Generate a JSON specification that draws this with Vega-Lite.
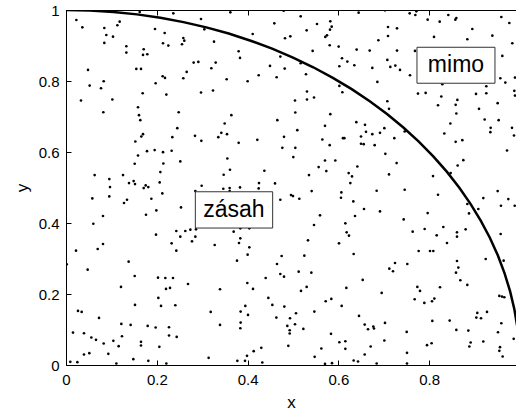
{
"$schema":"https://vega.github.io/schema/vega-lite/v6.json",
"width":450,"height":355,
"autosize":{"type":"none"},
"padding":{"left":66,"top":10,"right":0,"bottom":49},
"background":"white",
"config":{"view":{"stroke":null},"font":"Liberation Sans",
"axis":{"grid":false,"domainColor":"black","domainWidth":1,"tickColor":"black","tickSize":-5,"tickWidth":1,"labelColor":"black","labelFont":"Liberation Sans","labelFontSize":15,"titleFont":"Liberation Sans","titleFontSize":17,"titleFontWeight":"normal","titleColor":"black"}},
"datasets":{
"pts":[
{"x":0.0228,"y":0.9719},{"x":0.0360,"y":0.9512},{"x":0.0844,"y":0.9494},{"x":0.1131,"y":0.9569},{"x":0.1182,"y":0.9672},{"x":0.0888,"y":0.9297},{"x":0.1035,"y":0.9250},{"x":0.0844,"y":0.9072},{"x":0.1329,"y":0.8978},{"x":0.1329,"y":0.8800},{"x":0.1711,"y":0.8894},{"x":0.1696,"y":0.8734},{"x":0.1791,"y":0.8753},{"x":0.1960,"y":0.9466},{"x":0.2173,"y":0.9353},{"x":0.2137,"y":0.9062},{"x":0.2254,"y":0.8997},{"x":0.2364,"y":0.9906},{"x":0.1623,"y":0.9944},{"x":0.0485,"y":0.8312},{"x":0.1549,"y":0.8340},{"x":0.1652,"y":0.8340},{"x":0.2129,"y":0.8134},{"x":0.2181,"y":0.8087},{"x":0.0830,"y":0.7993},{"x":0.0521,"y":0.7871},{"x":0.0771,"y":0.7797},{"x":0.1975,"y":0.7937},{"x":0.1689,"y":0.7656},{"x":0.2210,"y":0.7618},{"x":0.0330,"y":0.7450},{"x":0.1021,"y":0.7478},{"x":0.1586,"y":0.7262},{"x":0.0822,"y":0.7121},{"x":0.1608,"y":0.7037},{"x":0.1637,"y":0.6897},{"x":0.2482,"y":0.7121},{"x":0.2452,"y":0.6671},
{"x":0.2974,"y":0.9747},{"x":0.3047,"y":0.9456},{"x":0.3620,"y":0.9934},{"x":0.2584,"y":0.9212},{"x":0.2606,"y":0.9137},{"x":0.2555,"y":0.9034},{"x":0.3260,"y":0.9109},{"x":0.4589,"y":0.9625},{"x":0.4794,"y":0.9981},{"x":0.4112,"y":0.9325},{"x":0.4824,"y":0.9203},{"x":0.4941,"y":0.9259},{"x":0.3803,"y":0.8837},{"x":0.3833,"y":0.8650},{"x":0.4721,"y":0.8687},{"x":0.2812,"y":0.8518},{"x":0.2915,"y":0.8537},{"x":0.3297,"y":0.8518},{"x":0.3201,"y":0.8359},{"x":0.2658,"y":0.8256},{"x":0.2584,"y":0.8078},{"x":0.4493,"y":0.8425},{"x":0.4817,"y":0.8350},{"x":0.4244,"y":0.8162},{"x":0.4640,"y":0.8106},{"x":0.3539,"y":0.8050},{"x":0.4001,"y":0.7993},{"x":0.2974,"y":0.7675},{"x":0.3238,"y":0.7731},{"x":0.3642,"y":0.7037},{"x":0.3495,"y":0.6803},{"x":0.4655,"y":0.6897},
{"x":0.5169,"y":0.9822},{"x":0.5529,"y":0.9606},{"x":0.5301,"y":0.9428},{"x":0.5822,"y":0.9681},{"x":0.5852,"y":0.9531},{"x":0.5815,"y":0.9447},{"x":0.5749,"y":0.9287},{"x":0.5712,"y":0.9241},{"x":0.6446,"y":0.9925},{"x":0.7026,"y":0.9990},{"x":0.7093,"y":0.9522},{"x":0.7291,"y":0.9484},{"x":0.7093,"y":0.9269},{"x":0.6880,"y":0.9147},{"x":0.5808,"y":0.9006},{"x":0.6006,"y":0.8969},{"x":0.5433,"y":0.8847},{"x":0.6402,"y":0.8884},{"x":0.6689,"y":0.8856},{"x":0.7291,"y":0.8856},{"x":0.6079,"y":0.8640},{"x":0.6197,"y":0.8547},{"x":0.6021,"y":0.8415},{"x":0.6351,"y":0.8444},{"x":0.7078,"y":0.8594},{"x":0.7144,"y":0.8397},{"x":0.7254,"y":0.8434},{"x":0.7357,"y":0.8312},{"x":0.6747,"y":0.8368},{"x":0.5169,"y":0.8500},{"x":0.5286,"y":0.8190},{"x":0.6858,"y":0.7975},{"x":0.6021,"y":0.7862},{"x":0.6087,"y":0.7684},{"x":0.5308,"y":0.7703},{"x":0.5308,"y":0.7478},{"x":0.5463,"y":0.7534},{"x":0.5044,"y":0.7450},{"x":0.7078,"y":0.7431},{"x":0.7115,"y":0.7215},{"x":0.5051,"y":0.7112},{"x":0.5822,"y":0.7065},{"x":0.5705,"y":0.6737},{"x":0.6395,"y":0.6840},{"x":0.6586,"y":0.6765},{"x":0.7012,"y":0.6671},
{"x":0.7570,"y":0.9906},{"x":0.7695,"y":0.9859},{"x":0.7717,"y":0.9963},{"x":0.7966,"y":0.9728},{"x":0.8231,"y":0.9672},{"x":0.8421,"y":0.9859},{"x":0.8576,"y":0.9728},{"x":0.8598,"y":0.9775},{"x":0.9589,"y":0.9803},{"x":0.9765,"y":0.9634},{"x":0.8950,"y":0.9466},{"x":0.8106,"y":0.9241},{"x":0.8840,"y":0.9175},{"x":0.9391,"y":0.9278},{"x":0.9831,"y":0.9062},{"x":0.7687,"y":0.8847},{"x":0.9611,"y":0.8706},{"x":0.7577,"y":0.8162},{"x":0.9567,"y":0.8078},{"x":0.9677,"y":0.7956},{"x":0.9890,"y":0.8097},{"x":0.8289,"y":0.7909},{"x":0.9258,"y":0.7853},{"x":0.7753,"y":0.7646},{"x":0.7922,"y":0.7665},{"x":0.9031,"y":0.7637},{"x":0.9258,"y":0.7656},{"x":0.9875,"y":0.7722},{"x":0.9890,"y":0.7590},{"x":0.8267,"y":0.7562},{"x":0.8620,"y":0.7468},{"x":0.8583,"y":0.7328},{"x":0.8194,"y":0.7318},{"x":0.9508,"y":0.7375},{"x":0.9097,"y":0.7215},{"x":0.8598,"y":0.7084},{"x":0.9222,"y":0.6915},{"x":0.9530,"y":0.6897},{"x":0.8466,"y":0.6803},{"x":0.9354,"y":0.6681},{"x":0.9824,"y":0.6681},
{"x":0.1696,"y":0.6503},{"x":0.1659,"y":0.6437},{"x":0.1527,"y":0.6296},{"x":0.2342,"y":0.6418},{"x":0.1784,"y":0.6024},{"x":0.1953,"y":0.6053},{"x":0.2137,"y":0.5996},{"x":0.2327,"y":0.6034},{"x":0.1586,"y":0.5902},{"x":0.2144,"y":0.5677},{"x":0.1513,"y":0.5668},{"x":0.2078,"y":0.5434},{"x":0.0631,"y":0.5349},{"x":0.1256,"y":0.5349},{"x":0.0954,"y":0.5237},{"x":0.1388,"y":0.5124},{"x":0.1490,"y":0.5181},{"x":0.1520,"y":0.5096},{"x":0.2063,"y":0.5143},{"x":0.0969,"y":0.5012},{"x":0.1755,"y":0.5059},{"x":0.1711,"y":0.4984},{"x":0.1813,"y":0.5012},{"x":0.2122,"y":0.4834},{"x":0.0580,"y":0.4693},{"x":0.0954,"y":0.4749},{"x":0.1344,"y":0.4655},{"x":0.1278,"y":0.4562},{"x":0.1880,"y":0.4684},{"x":0.1990,"y":0.4355},{"x":0.1762,"y":0.4233},{"x":0.0815,"y":0.4196},{"x":0.0602,"y":0.3980},{"x":0.2430,"y":0.3774},{"x":0.1982,"y":0.3671},{"x":0.0815,"y":0.3408},{"x":0.2327,"y":0.3427},{"x":0.0698,"y":0.3268},
{"x":0.2841,"y":0.6456},{"x":0.2981,"y":0.6315},{"x":0.3355,"y":0.6418},{"x":0.3421,"y":0.6540},{"x":0.3546,"y":0.6503},{"x":0.3803,"y":0.6259},{"x":0.4214,"y":0.6343},{"x":0.4802,"y":0.6428},{"x":0.4765,"y":0.6118},{"x":0.3554,"y":0.5818},{"x":0.2518,"y":0.5734},{"x":0.3612,"y":0.5499},{"x":0.3473,"y":0.5359},{"x":0.4369,"y":0.5471},{"x":0.4251,"y":0.5124},{"x":0.4604,"y":0.5115},{"x":0.2988,"y":0.5049},{"x":0.3465,"y":0.4965},{"x":0.3605,"y":0.4984},{"x":0.3605,"y":0.4899},{"x":0.3833,"y":0.5002},{"x":0.4244,"y":0.4974},{"x":0.2849,"y":0.4899},{"x":0.4721,"y":0.4655},{"x":0.4956,"y":0.4787},{"x":0.2533,"y":0.4440},{"x":0.2628,"y":0.3774},{"x":0.2739,"y":0.3812},{"x":0.2863,"y":0.3821},{"x":0.2518,"y":0.3615},{"x":0.2849,"y":0.3615},{"x":0.2775,"y":0.3483},{"x":0.3693,"y":0.3755},{"x":0.3840,"y":0.3849},{"x":0.4038,"y":0.3849},{"x":0.3840,"y":0.3568},{"x":0.3811,"y":0.3437},{"x":0.3275,"y":0.3380},{"x":0.4038,"y":0.3315},
{"x":0.5095,"y":0.6615},{"x":0.6608,"y":0.6568},{"x":0.6747,"y":0.6503},{"x":0.6916,"y":0.6540},{"x":0.6498,"y":0.6437},{"x":0.6101,"y":0.6390},{"x":0.6131,"y":0.6390},{"x":0.5646,"y":0.6353},{"x":0.5808,"y":0.6193},{"x":0.6498,"y":0.6231},{"x":0.6557,"y":0.6221},{"x":0.6799,"y":0.6193},{"x":0.7232,"y":0.6390},{"x":0.5051,"y":0.6118},{"x":0.5007,"y":0.5856},{"x":0.5705,"y":0.5762},{"x":0.5932,"y":0.5762},{"x":0.5565,"y":0.5574},{"x":0.5734,"y":0.5462},{"x":0.5352,"y":0.5349},{"x":0.6417,"y":0.5593},{"x":0.6226,"y":0.5406},{"x":0.6300,"y":0.5312},{"x":0.6263,"y":0.5124},{"x":0.7034,"y":0.5949},{"x":0.7283,"y":0.5687},{"x":0.7115,"y":0.5368},{"x":0.5000,"y":0.4759},{"x":0.5139,"y":0.4684},{"x":0.5411,"y":0.4899},{"x":0.6065,"y":0.4862},{"x":0.6057,"y":0.4712},{"x":0.6329,"y":0.4608},{"x":0.6843,"y":0.4909},{"x":0.7460,"y":0.4937},{"x":0.6564,"y":0.4393},{"x":0.6916,"y":0.4327},{"x":0.6366,"y":0.4196},{"x":0.5595,"y":0.4215},{"x":0.5463,"y":0.3943},{"x":0.6153,"y":0.3990},{"x":0.6182,"y":0.3736},{"x":0.6233,"y":0.3643},{"x":0.7438,"y":0.4102},{"x":0.5330,"y":0.3511},{"x":0.6013,"y":0.3427},
{"x":0.7460,"y":0.6578},{"x":0.8333,"y":0.6521},{"x":0.9347,"y":0.6559},{"x":0.9868,"y":0.6465},{"x":0.8583,"y":0.6287},{"x":0.8730,"y":0.6334},{"x":0.9714,"y":0.6043},{"x":0.8752,"y":0.5771},{"x":0.8627,"y":0.5621},{"x":0.8084,"y":0.5321},{"x":0.8473,"y":0.5406},{"x":0.8194,"y":0.4796},{"x":0.9508,"y":0.4899},{"x":0.9192,"y":0.4702},{"x":0.9743,"y":0.4674},{"x":0.9581,"y":0.4487},{"x":0.9883,"y":0.4487},{"x":0.8840,"y":0.4534},{"x":0.9082,"y":0.4393},{"x":0.8877,"y":0.4271},{"x":0.7966,"y":0.4280},{"x":0.7636,"y":0.3755},{"x":0.7900,"y":0.3830},{"x":0.8165,"y":0.3652},{"x":0.8311,"y":0.3887},{"x":0.8612,"y":0.3736},{"x":0.8612,"y":0.3615},{"x":0.8803,"y":0.3821},{"x":0.8392,"y":0.3437},{"x":0.9574,"y":0.3690},
{"x":0.0220,"y":0.3221},{"x":0.2430,"y":0.3221},{"x":0.1380,"y":0.2911},{"x":0.0477,"y":0.2686},{"x":0.1513,"y":0.2508},{"x":0.2026,"y":0.2461},{"x":0.2188,"y":0.2452},{"x":0.2357,"y":0.2452},{"x":0.1211,"y":0.2199},{"x":0.2203,"y":0.2143},{"x":0.2291,"y":0.2171},{"x":0.2034,"y":0.1889},{"x":0.1520,"y":0.1692},{"x":0.2093,"y":0.1664},{"x":0.2408,"y":0.1683},{"x":0.0264,"y":0.1524},{"x":0.0345,"y":0.1496},{"x":0.0727,"y":0.1327},{"x":0.1219,"y":0.1158},{"x":0.1424,"y":0.1130},{"x":0.1799,"y":0.1102},{"x":0.1975,"y":0.1055},{"x":0.2269,"y":0.1064},{"x":0.0154,"y":0.0914},{"x":0.0396,"y":0.0895},{"x":0.1233,"y":0.0811},{"x":0.0558,"y":0.0774},{"x":0.0661,"y":0.0708},{"x":0.2269,"y":0.0830},{"x":0.2438,"y":0.0792},{"x":0.1043,"y":0.0680},{"x":0.0830,"y":0.0605},{"x":0.1160,"y":0.0530},{"x":0.1652,"y":0.0652},{"x":0.1652,"y":0.0549},{"x":0.2056,"y":0.0511},{"x":0.0396,"y":0.0295},{"x":0.0514,"y":0.0333},{"x":0.0932,"y":0.0314},{"x":0.1483,"y":0.0164},{"x":0.1813,"y":0.0117},{"x":0.0095,"y":0.0089},{"x":0.0250,"y":0.0080},{"x":0.1109,"y":0.0042},{"x":0.2210,"y":0.0042},{"x":0.0015,"y":0.2835},
{"x":0.4001,"y":0.3108},{"x":0.3767,"y":0.2940},{"x":0.4750,"y":0.3071},{"x":0.4648,"y":0.2846},{"x":0.4721,"y":0.2564},{"x":0.4802,"y":0.2489},{"x":0.4398,"y":0.2452},{"x":0.3994,"y":0.2311},{"x":0.2687,"y":0.2283},{"x":0.3392,"y":0.2133},{"x":0.4119,"y":0.2143},{"x":0.4457,"y":0.1889},{"x":0.3950,"y":0.1664},{"x":0.4545,"y":0.1692},{"x":0.4809,"y":0.1646},{"x":0.3187,"y":0.1496},{"x":0.3847,"y":0.1505},{"x":0.4009,"y":0.1411},{"x":0.4633,"y":0.1336},{"x":0.4934,"y":0.1317},{"x":0.3392,"y":0.1130},{"x":0.3847,"y":0.1195},{"x":0.3840,"y":0.1036},{"x":0.4875,"y":0.1102},{"x":0.4927,"y":0.0980},{"x":0.4927,"y":0.0886},{"x":0.4897,"y":0.0539},{"x":0.4302,"y":0.0483},{"x":0.4134,"y":0.0389},{"x":0.3987,"y":0.0258},{"x":0.3142,"y":0.0202},{"x":0.3774,"y":0.0117},{"x":0.3943,"y":0.0117},{"x":0.4324,"y":0.0070},
{"x":0.5250,"y":0.3080},{"x":0.6336,"y":0.3127},{"x":0.5125,"y":0.2630},{"x":0.5404,"y":0.2602},{"x":0.7247,"y":0.2874},{"x":0.7122,"y":0.2714},{"x":0.7203,"y":0.2640},{"x":0.6535,"y":0.2396},{"x":0.5301,"y":0.2199},{"x":0.5176,"y":0.2086},{"x":0.6175,"y":0.2171},{"x":0.6953,"y":0.2030},{"x":0.5720,"y":0.1796},{"x":0.5844,"y":0.1861},{"x":0.6072,"y":0.1664},{"x":0.5066,"y":0.1458},{"x":0.5470,"y":0.1505},{"x":0.5044,"y":0.1149},{"x":0.5228,"y":0.1017},{"x":0.6454,"y":0.1383},{"x":0.6579,"y":0.1139},{"x":0.6652,"y":0.1008},{"x":0.6769,"y":0.1083},{"x":0.6784,"y":0.1027},{"x":0.7026,"y":0.1186},{"x":0.5837,"y":0.0877},{"x":0.6021,"y":0.0642},{"x":0.6153,"y":0.0670},{"x":0.6153,"y":0.0455},{"x":0.5624,"y":0.0464},{"x":0.7012,"y":0.0689},{"x":0.6711,"y":0.0520},{"x":0.6579,"y":0.0295},{"x":0.5477,"y":0.0230},{"x":0.6336,"y":0.0127},{"x":0.6432,"y":0.0098},{"x":0.5705,"y":0.0033},{"x":0.5859,"y":0.0051},{"x":0.6843,"y":0.0042},
{"x":0.7768,"y":0.3211},{"x":0.8018,"y":0.3211},{"x":0.8091,"y":0.3211},{"x":0.7518,"y":0.2846},{"x":0.8612,"y":0.2930},{"x":0.8642,"y":0.2743},{"x":0.8590,"y":0.2602},{"x":0.8686,"y":0.2386},{"x":0.8840,"y":0.2255},{"x":0.9244,"y":0.2986},{"x":0.9640,"y":0.2940},{"x":0.7739,"y":0.2199},{"x":0.7797,"y":0.2086},{"x":0.8238,"y":0.2189},{"x":0.7680,"y":0.1852},{"x":0.7893,"y":0.1749},{"x":0.8062,"y":0.1796},{"x":0.8113,"y":0.1871},{"x":0.9545,"y":0.1946},{"x":0.9604,"y":0.1927},{"x":0.9655,"y":0.1908},{"x":0.9060,"y":0.1467},{"x":0.9273,"y":0.1496},{"x":0.9038,"y":0.1336},{"x":0.9141,"y":0.1317},{"x":0.8451,"y":0.1252},{"x":0.8069,"y":0.1242},{"x":0.9589,"y":0.1177},{"x":0.8598,"y":0.0989},{"x":0.8862,"y":0.0970},{"x":0.9515,"y":0.0924},{"x":0.7504,"y":0.0933},{"x":0.9861,"y":0.0736},{"x":0.9192,"y":0.0661},{"x":0.8913,"y":0.0633},{"x":0.8884,"y":0.0520},{"x":0.8054,"y":0.0614},{"x":0.7952,"y":0.0558},{"x":0.9559,"y":0.0502},{"x":0.9545,"y":0.0399},{"x":0.9618,"y":0.0239},{"x":0.7511,"y":0.0342},{"x":0.7511,"y":0.0042}
],
"arc":[
{"x":1,"y":0},{"x":0.9986,"y":0.0523},{"x":0.9945,"y":0.1045},{"x":0.9877,"y":0.1564},{"x":0.9781,"y":0.2079},{"x":0.9659,"y":0.2588},{"x":0.9511,"y":0.3090},{"x":0.9336,"y":0.3584},{"x":0.9135,"y":0.4067},{"x":0.8910,"y":0.4540},{"x":0.8660,"y":0.5},{"x":0.8387,"y":0.5446},{"x":0.8090,"y":0.5878},{"x":0.7771,"y":0.6293},{"x":0.7431,"y":0.6691},{"x":0.7071,"y":0.7071},{"x":0.6691,"y":0.7431},{"x":0.6293,"y":0.7771},{"x":0.5878,"y":0.8090},{"x":0.5446,"y":0.8387},{"x":0.5,"y":0.8660},{"x":0.4540,"y":0.8910},{"x":0.4067,"y":0.9135},{"x":0.3584,"y":0.9336},{"x":0.3090,"y":0.9511},{"x":0.2588,"y":0.9659},{"x":0.2079,"y":0.9781},{"x":0.1564,"y":0.9877},{"x":0.1045,"y":0.9945},{"x":0.0523,"y":0.9986},{"x":0,"y":1}
],
"labels":[
{"t":"zásah","x":0.2849,"x2":0.4552,"y":0.4880,"y2":0.3858,"cx":0.370,"cy":0.4369},
{"t":"mimo","x":0.7731,"x2":0.9449,"y":0.8950,"y2":0.7937,"cx":0.859,"cy":0.8444}
]
},
"resolve":{"axis":{"x":"independent","y":"independent"}},
"layer":[
{"data":{"name":"pts"},"mark":{"type":"circle","size":7,"color":"black","opacity":1,"clip":true},
"encoding":{
"x":{"field":"x","type":"quantitative","scale":{"domain":[0,0.9912],"nice":false,"zero":false},"axis":{"orient":"bottom","values":[0,0.2,0.4,0.6,0.8],"format":"~g","labelFlush":false,"labelPadding":12,"title":"x","titlePadding":7}},
"y":{"field":"y","type":"quantitative","scale":{"domain":[0,1],"nice":false},"axis":{"orient":"left","values":[0,0.2,0.4,0.6,0.8,1],"format":"~g","labelPadding":12,"title":"y","titlePadding":7}}}},
{"data":{"name":"arc"},"mark":{"type":"line","color":"black","strokeWidth":2.5,"clip":true},
"encoding":{
"x":{"field":"x","type":"quantitative","scale":{"domain":[0,0.9912],"nice":false,"zero":false},"axis":{"orient":"top","values":[0,0.2,0.4,0.6,0.8],"labels":false,"title":null}},
"y":{"field":"y","type":"quantitative","scale":{"domain":[0,1],"nice":false},"axis":null}}},
{"data":{"name":"labels"},"mark":{"type":"rect","fill":"white","stroke":"#333333","strokeWidth":1},
"encoding":{
"x":{"field":"x","type":"quantitative","scale":{"domain":[0,0.9912],"nice":false,"zero":false},"axis":null},"x2":{"field":"x2"},
"y":{"field":"y","type":"quantitative","scale":{"domain":[0,1],"nice":false},"axis":null},"y2":{"field":"y2"}}},
{"data":{"name":"labels"},"mark":{"type":"text","font":"Liberation Sans","fontSize":23,"color":"black","align":"center","baseline":"middle"},
"encoding":{
"x":{"field":"cx","type":"quantitative","scale":{"domain":[0,0.9912],"nice":false,"zero":false},"axis":null},
"y":{"field":"cy","type":"quantitative","scale":{"domain":[0,1],"nice":false},"axis":null},
"text":{"field":"t"}}}
]
}
